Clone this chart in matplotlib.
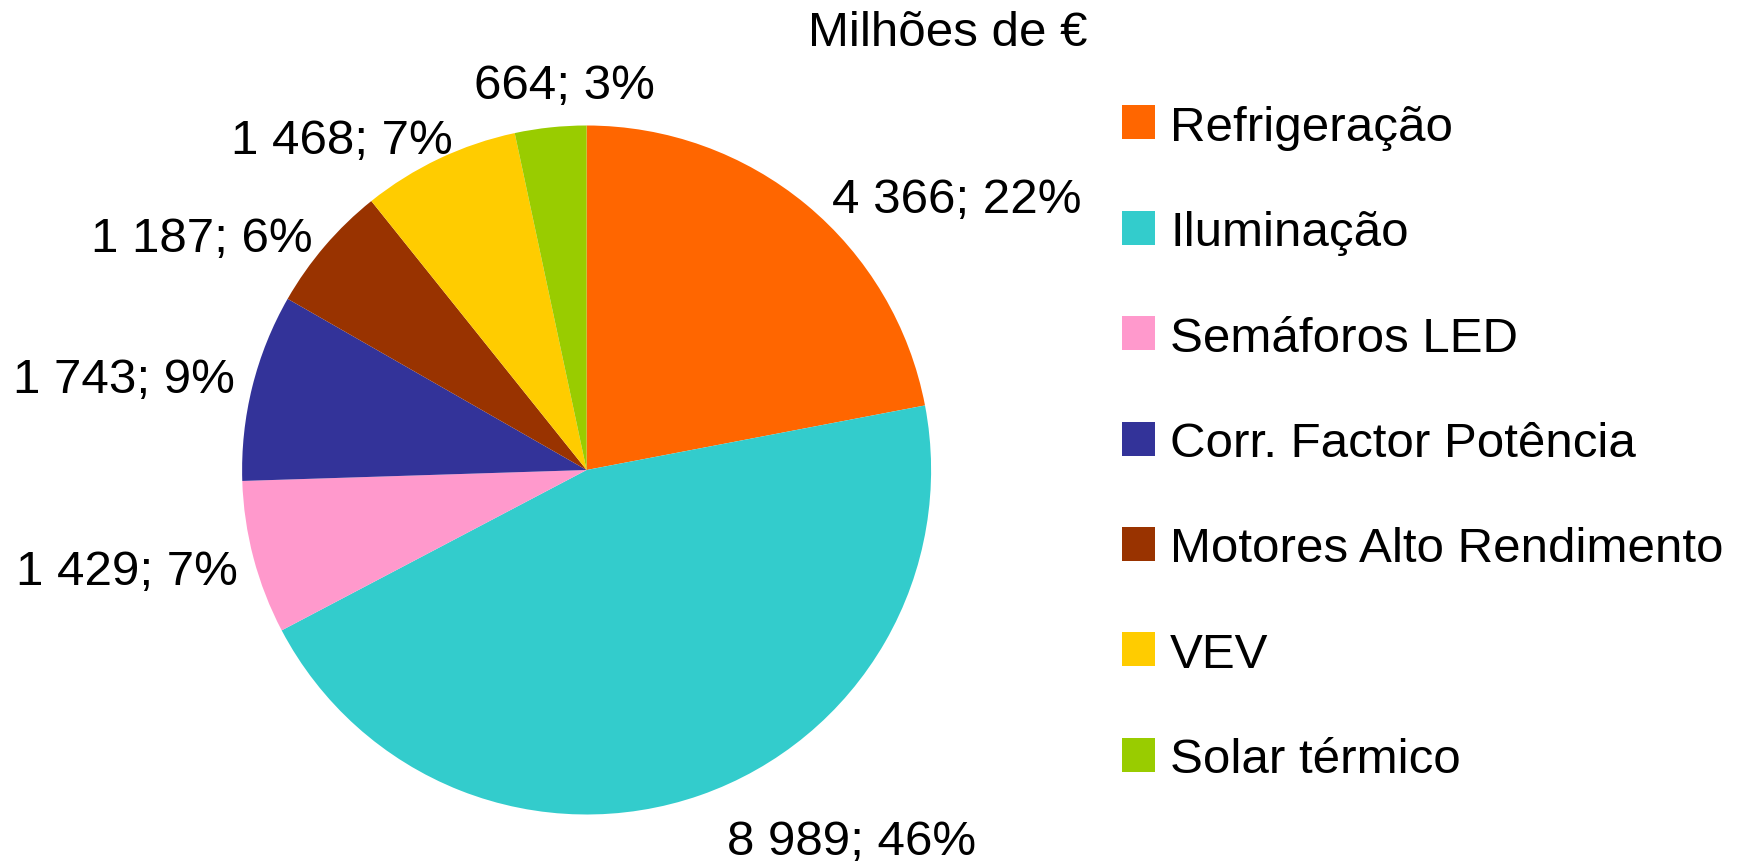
import matplotlib
matplotlib.use('Agg')
import matplotlib.pyplot as plt
from matplotlib.patches import Rectangle

categories = ['Refrigeração', 'Iluminação', 'Semáforos LED', 'Corr. Factor Potência',
              'Motores Alto Rendimento', 'VEV', 'Solar térmico']
values = [4366, 8989, 1429, 1743, 1187, 1468, 664]
percents = [22, 46, 7, 9, 6, 7, 3]
colours = ['#ff6600', '#33cccc', '#ff99cc', '#333399', '#993300', '#ffcc00', '#99cc00']
title = 'Milhões de €'

# where each value label sits (baseline), in pie units (radius 1), and which side it hangs off
label_pos = [(0.711, 0.748), (0.407, -1.115), (-1.011, -0.331), (-1.021, 0.226),
             (-0.794, 0.637), (-0.388, 0.920), (0.199, 1.079)]
label_ha = ['left', 'left', 'right', 'right', 'right', 'right', 'right']

W, H = 1742, 862
plt.rcParams['font.family'] = ['Liberation Sans', 'DejaVu Sans']

fig = plt.figure(figsize=(W / 100, H / 100), dpi=100)

# pie centre and radius in pixels
cx, cy, r = 586.6, 471.0, 344.5
ax = fig.add_axes([(cx - r) / W, (H - cy - r) / H, 2 * r / W, 2 * r / H])
wedges, _ = ax.pie(values, colors=colours, startangle=90, counterclock=False,
                   radius=1, wedgeprops=dict(linewidth=0))
ax.set_xlim(-1, 1)
ax.set_ylim(-1, 1)
ax.set_aspect('equal')
ax.axis('off')

for i, v in enumerate(values):
    txt = f"{v:,}".replace(',', ' ') + f"; {percents[i]}%"
    ax.text(label_pos[i][0], label_pos[i][1], txt, ha=label_ha[i], va='baseline',
            fontsize=35.5, clip_on=False)

# legend, drawn by hand so the rows line up with the reference
row0, pitch = 123.3, 105.4
for i, name in enumerate(categories):
    yc = row0 + i * pitch
    fig.add_artist(Rectangle((1122 / W, (H - yc - 17) / H), 33 / W, 34 / H,
                             transform=fig.transFigure, facecolor=colours[i],
                             edgecolor='none'))
    fig.text(1170 / W, (H - (yc + 17.6)) / H, name, ha='left', va='baseline',
             fontsize=35.5)

fig.text(948 / W, (H - 46) / H, title, ha='center', va='baseline', fontsize=35.5)

fig.savefig('out.png', dpi=100)
